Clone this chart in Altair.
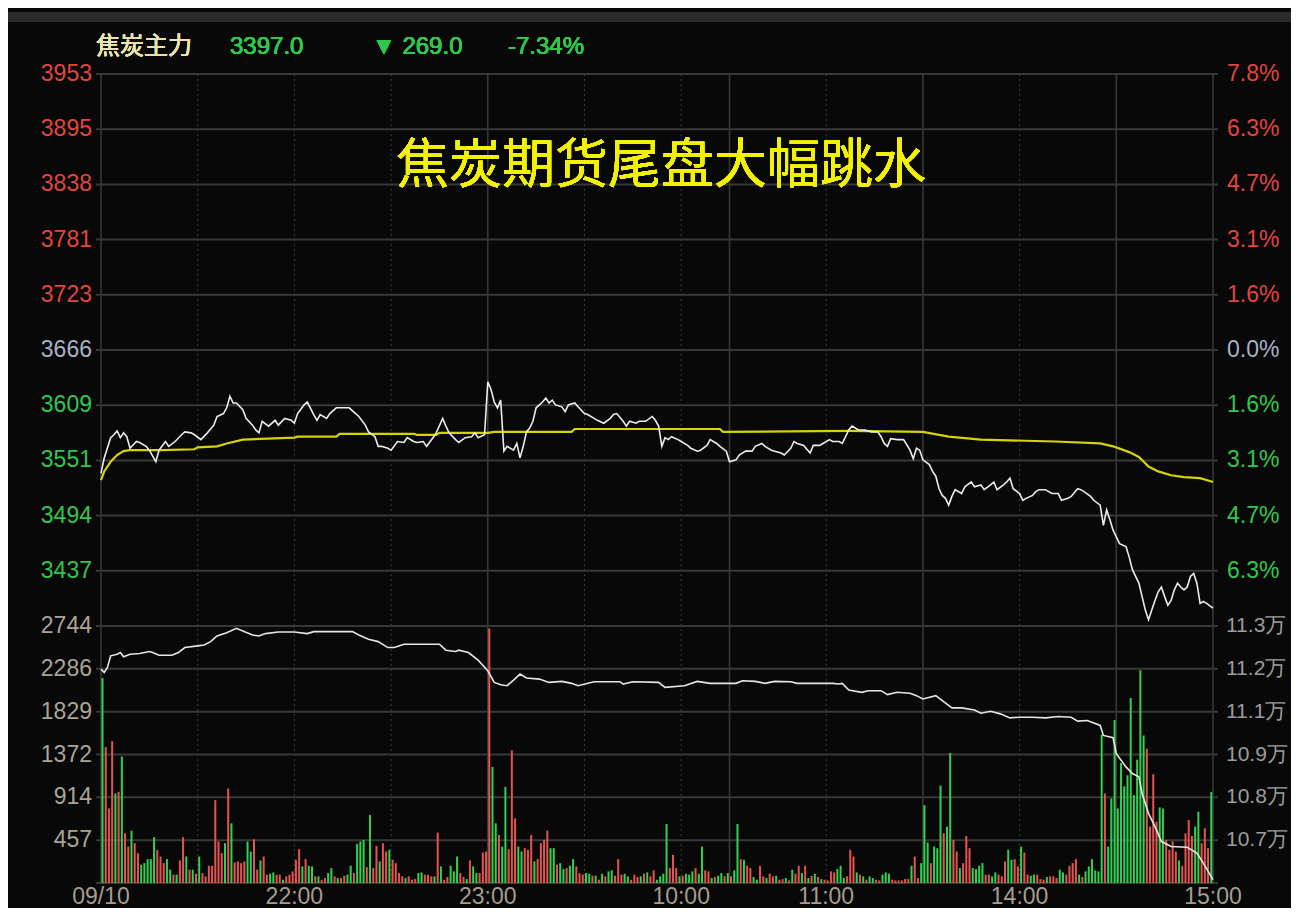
import altair as alt
import pandas as pd

# ---------------- data ----------------
PREV_SETTLE = 3666
PRICE_STEP = 57.3          # one grid step of the price panel
VOL_MAX = 2744
OI_TOP, OI_STEP = 113000, 1200

X_TICK_POS = [0, 60, 120, 180, 225, 285, 345]
X_TICK_LABELS = ["09/10", "22:00", "23:00", "10:00", "11:00", "14:00", "15:00"]
X_SOLID = [0, 120, 195, 255, 315, 345]
X_DOTTED = [30, 60, 90, 150, 180, 225, 285]

PRICE_TICK_K = [5, 4, 3, 2, 1, 0, -1, -2, -3, -4]
PRICE_TICK_LABELS = ["3953", "3895", "3838", "3781", "3723", "3666", "3609", "3551", "3494", "3437"]
PCT_TICK_LABELS = ["7.8%", "6.3%", "4.7%", "3.1%", "1.6%", "0.0%", "1.6%", "3.1%", "4.7%", "6.3%"]
VOL_TICK_LABELS = ["2744", "2286", "1829", "1372", "914", "457"]
OI_TICK_LABELS = ["11.3万", "11.2万", "11.1万", "10.9万", "10.8万", "10.7万"]

PRICE_NIGHT = [(0, 3538), (1, 3554), (3, 3575), (4, 3578), (5, 3582), (6, 3575), (7, 3580), (8, 3576),
               (9, 3564), (11, 3571), (12, 3570), (14, 3566), (15, 3562), (17, 3550), (18, 3562),
               (20, 3571), (21, 3566), (23, 3571), (25, 3578), (26, 3581), (28, 3580), (29, 3578),
               (31, 3573), (33, 3580), (35, 3588), (36, 3597), (38, 3600), (39, 3606), (40, 3618),
               (41, 3611), (42, 3611), (44, 3604), (45, 3595), (47, 3588), (48, 3583), (49, 3580),
               (50, 3592), (52, 3587), (54, 3593), (55, 3588), (57, 3595), (59, 3593), (60, 3590),
               (61, 3600), (63, 3609), (64, 3612), (66, 3599), (67, 3593), (68, 3599), (70, 3595),
               (71, 3600), (73, 3606), (75, 3606), (77, 3606), (79, 3600), (80, 3597), (82, 3588),
               (83, 3581), (85, 3576), (86, 3566), (87, 3566), (89, 3564), (90, 3562), (92, 3571),
               (94, 3570), (95, 3575), (97, 3571), (98, 3570), (100, 3571), (101, 3566), (103, 3575),
               (104, 3580), (106, 3595), (107, 3587), (108, 3580), (110, 3573), (111, 3570),
               (113, 3575), (115, 3576), (116, 3580), (117, 3575), (119, 3578)]
PRICE_MORNING = [(120, 3633), (121, 3625), (122, 3612), (123, 3606), (124, 3614), (125, 3561),
                 (126, 3566), (128, 3562), (129, 3569), (130, 3554), (131, 3566), (132, 3581),
                 (133, 3585), (134, 3592), (135, 3606), (137, 3612), (138, 3616), (139, 3611),
                 (140, 3614), (141, 3609), (143, 3607), (144, 3602), (145, 3609), (147, 3611),
                 (148, 3607), (150, 3600), (151, 3599), (153, 3595), (154, 3593), (156, 3590),
                 (158, 3595), (159, 3599), (160, 3600), (162, 3592), (163, 3587), (164, 3592),
                 (166, 3590), (167, 3592), (169, 3592), (171, 3597), (172, 3593), (173, 3587),
                 (174, 3566), (175, 3575), (176, 3573), (177, 3576), (179, 3573), (180, 3571),
                 (182, 3567), (183, 3564), (185, 3561), (186, 3562), (188, 3567), (189, 3573),
                 (191, 3569), (192, 3566), (194, 3561), (195, 3550), (197, 3552), (198, 3557),
                 (200, 3561), (202, 3561), (203, 3566), (205, 3569), (206, 3566), (208, 3562),
                 (209, 3561), (211, 3559), (212, 3557), (214, 3564), (215, 3571), (216, 3569),
                 (218, 3567), (220, 3559), (221, 3567), (223, 3567), (224, 3569), (226, 3573),
                 (227, 3571), (229, 3571), (230, 3569), (232, 3583), (233, 3587), (235, 3583)]
PRICE_AFTERNOON = [(237, 3583), (239, 3581), (241, 3581), (242, 3576), (243, 3569), (244, 3566),
                   (245, 3574), (247, 3573), (249, 3573), (251, 3562), (252, 3553), (253, 3564),
                   (254, 3562), (255, 3552), (257, 3547), (258, 3540), (259, 3535), (260, 3522),
                   (261, 3515), (262, 3512), (263, 3505), (264, 3514), (265, 3521), (267, 3517),
                   (268, 3524), (270, 3529), (271, 3524), (273, 3526), (274, 3521), (276, 3526),
                   (277, 3529), (278, 3521), (280, 3526), (281, 3529), (282, 3533), (283, 3522),
                   (285, 3517), (286, 3510), (287, 3512), (289, 3515), (290, 3519), (291, 3521),
                   (293, 3521), (295, 3517), (297, 3517), (298, 3510), (300, 3512), (301, 3514),
                   (303, 3522), (304, 3521), (305, 3519), (307, 3514), (308, 3510), (310, 3505),
                   (311, 3484), (312, 3500), (313, 3490), (314, 3479), (315, 3472), (316, 3465),
                   (318, 3462), (319, 3451), (320, 3438), (322, 3424), (323, 3410), (324, 3396),
                   (325, 3386), (326, 3396), (327, 3406), (328, 3415), (329, 3420), (330, 3410),
                   (331, 3401), (332, 3406), (333, 3417), (334, 3424), (335, 3420), (336, 3417),
                   (337, 3420), (338, 3431), (339, 3434), (340, 3424), (341, 3403), (342, 3405),
                   (343, 3403), (345, 3398)]

AVG_PRICE = [(0, 3531), (1, 3540), (3, 3550), (5, 3557), (7, 3561), (9, 3562), (19, 3562), (29, 3563),
             (30, 3565), (36, 3566), (39, 3569), (44, 3573), (60, 3575), (61, 3576), (73, 3576),
             (74, 3579), (97, 3579), (98, 3578), (104, 3578), (105, 3580), (120, 3580), (122, 3581),
             (146, 3581), (147, 3584), (192, 3584), (193, 3581), (232, 3582), (255, 3581), (263, 3576),
             (273, 3573), (296, 3571), (310, 3569), (314, 3566), (319, 3560), (322, 3555), (325, 3545),
             (328, 3540), (332, 3536), (336, 3534), (341, 3533), (345, 3529)]

OPEN_INTEREST = [(0, 111792), (1, 111699), (2, 111839), (3, 112164), (5, 112210), (6, 112257),
                 (7, 112136), (9, 112210), (12, 112229), (15, 112285), (16, 112257), (18, 112182),
                 (22, 112182), (24, 112257), (26, 112396), (30, 112443), (32, 112470), (34, 112563),
                 (36, 112721), (39, 112814), (42, 112935), (44, 112861), (47, 112749), (49, 112721),
                 (51, 112787), (55, 112833), (60, 112833), (64, 112787), (66, 112842), (78, 112842),
                 (80, 112749), (83, 112628), (86, 112563), (89, 112396), (91, 112396), (94, 112489),
                 (105, 112489), (107, 112322), (110, 112285), (111, 112322), (114, 112257),
                 (117, 112043), (120, 111746), (122, 111420), (124, 111355), (126, 111328),
                 (128, 111486), (130, 111653), (132, 111542), (136, 111513), (139, 111420),
                 (143, 111448), (146, 111393), (148, 111328), (153, 111439), (161, 111439),
                 (162, 111374), (165, 111439), (173, 111420), (175, 111281), (181, 111328),
                 (185, 111448), (189, 111393), (197, 111393), (199, 111467), (203, 111448),
                 (206, 111393), (209, 111448), (214, 111439), (216, 111393), (227, 111393),
                 (229, 111374), (230, 111393), (232, 111207), (236, 111142), (238, 111188),
                 (242, 111188), (244, 111077), (247, 111142), (251, 111114), (253, 111049),
                 (255, 110956), (259, 111049), (261, 110910), (264, 110705), (267, 110705),
                 (271, 110649), (273, 110556), (276, 110612), (279, 110538), (282, 110426),
                 (285, 110445), (289, 110445), (293, 110426), (297, 110463), (301, 110445),
                 (303, 110334), (306, 110352), (310, 110213), (311, 109934), (314, 109869),
                 (315, 109423), (318, 109052), (320, 108866), (322, 108773), (323, 108308),
                 (325, 107751), (327, 107379), (329, 106961), (332, 106822), (337, 106803),
                 (340, 106636), (342, 106357), (345, 105893)]

VOL_NIGHT = [2188, 1451, 797, 1515, 956, 974, 1352, 531, 389, 559,
             425, 319, 195, 212, 255, 255, 489, 354, 283, 212,
             255, 142, 89, 89, 241, 489, 283, 142, 142, 99,
             283, 106, 71, 184, 184, 885, 443, 319, 425, 1009,
             637, 219, 230, 212, 230, 443, 336, 467, 142, 241,
             283, 89, 99, 113, 89, 89, 35, 71, 89, 124,
             248, 361, 177, 255, 184, 177, 71, 71, 35, 53,
             106, 159, 71, 53, 53, 78, 89, 184, 106, 418,
             443, 460, 170, 726, 159, 396, 230, 425, 336, 354,
             248, 212, 106, 71, 53, 71, 35, 42, 106, 113,
             89, 89, 71, 71, 538, 177, 35, 64, 184, 124,
             283, 106, 64, 42, 241, 177, 106, 106, 326,
             336, 2717]
DIR_NIGHT = ("GRRRGRGRRG" "RRGGGGGRRR" "GGRGRRGRGR" "GRRRRRRRGR" "GRRRRGGRRG" "RRGGRRGRRR"
             "RRGRGGRGRR" "GGRGRRGGRG" "GGRGRRGRRG" "RRRRGRRRGG" "RRRGRGRRGG" "GRRGRGGRR" "RR")

VOL_MORNING = [1239, 637, 513, 389, 1026, 361, 1416, 690, 389, 336,
               372, 354, 513, 230, 255, 425, 460, 559, 372, 372,
               195, 212, 149, 159, 184, 255, 177, 106, 89, 106,
               99, 78, 78, 35, 99, 71, 124, 135, 78, 255,
               89, 99, 71, 35, 89, 64, 71, 99, 113, 71,
               135, 35, 71, 99, 630, 159, 301, 159, 71, 78,
               99, 89, 124, 159, 99, 389, 135, 124, 53, 64,
               78, 106, 71, 106, 71, 135, 630, 255, 248, 184,
               159, 64, 35, 184, 71, 53, 99, 71, 78, 35,
               42, 53, 28, 142, 99, 184, 106, 184, 53, 78,
               99, 64, 42, 35, 28, 124, 113, 149, 184, 53,
               71, 354, 283]
DIR_MORNING = ("GGRGGRRRGG" "RRRGRRRRGG" "RGGRGGRRRG" "GRGRGRGGRR" "RGGRRRGRGR" "RGGGGRRRGR"
               "GGGRGGRRGR" "GGRGRGGRGR" "RGGRRGRRGR" "RGRGRRGRGR" "GRGRRRRGGG" "RRR")

VOL_AFTERNOON = [113, 89, 71, 35, 71, 53, 35, 28, 89, 113,
                 99, 35, 28, 28, 28, 42, 42, 184, 283, 53,
                 212, 832, 432, 212, 389, 372, 1040, 531, 602, 1388,
                 460, 336, 159, 212, 502, 372, 159, 149, 184, 212,
                 89, 89, 71, 113, 89, 71, 230, 354, 248, 255,
                 177, 389, 326, 89, 78, 89, 89, 42, 35, 64,
                 71, 71, 53, 142, 113, 89, 184, 212, 255, 89,
                 64, 124, 177, 255, 135, 124, 1586, 956, 389, 903,
                 1741, 796, 1281, 1033, 1150, 1975, 938, 1317, 2272, 1575,
                 1434, 602, 1161, 655, 807, 796, 460, 354, 443, 336,
                 241, 184, 531, 673, 502, 602, 761, 425, 584, 372,
                 973]
DIR_AFTERNOON = ("GRGRGGRRGG" "GRRRRRRGRR" "GGGRGGGRGG" "RRGRRRGGGG" "RRGGRRRGGR" "RGRRGGRRRG"
                 "RRRGGRRRRG" "RGGGGGGRGG" "GGGGGGGGGG" "RRRRGGRRRR" "GRRRRGGRRR" "G")

HEADER_NAME = "焦炭主力"
HEADER_LAST = "3397.0"
HEADER_CHG = "▼ 269.0"
HEADER_PCT = "-7.34%"
TITLE = "焦炭期货尾盘大幅跳水"

# ---------------- styling ----------------
W, H = 1122, 809
PRICE_H = 552
BG = "#080808"
GRID = "#383838"
RED = "#e2453f"
GREEN = "#2fc84c"
NEUTRAL = "#a7b2c6"
BAR_RED = "#e65450"
BAR_GREEN = "#2fd24f"
LAB_FONT = "Liberation Sans"
CJK_FONT = "Noto Sans CJK SC"

# ---------------- tables ----------------
price_df = pd.DataFrame(PRICE_NIGHT + PRICE_MORNING + PRICE_AFTERNOON, columns=["t", "p"])
avg_df = pd.DataFrame(AVG_PRICE, columns=["t", "p"])
oi_df = pd.DataFrame(OPEN_INTEREST, columns=["t", "oi"])
vols = VOL_NIGHT + VOL_MORNING + VOL_AFTERNOON
dirs = list(DIR_NIGHT + DIR_MORNING + DIR_AFTERNOON)
vol_df = pd.DataFrame({"t": list(range(len(vols))), "v": vols, "d": dirs})

p_ticks = [PREV_SETTLE + k * PRICE_STEP for k in PRICE_TICK_K]
p_colors = [RED if k > 0 else (NEUTRAL if k == 0 else GREEN) for k in PRICE_TICK_K]
ptick_df = pd.DataFrame({"val": p_ticks, "lab": PRICE_TICK_LABELS, "pct": PCT_TICK_LABELS, "c": p_colors})
pgrid_df = pd.DataFrame({"val": p_ticks + [PREV_SETTLE - 5 * PRICE_STEP]})

v_ticks = [VOL_MAX - i * VOL_MAX / 6 for i in range(6)]
vtick_df = pd.DataFrame({"val": v_ticks, "lab": VOL_TICK_LABELS,
                         "oi": [OI_TOP - i * OI_STEP for i in range(6)], "oilab": OI_TICK_LABELS})
vgrid_df = pd.DataFrame({"val": v_ticks + [0]})

xtick_df = pd.DataFrame({"t": X_TICK_POS, "lab": X_TICK_LABELS})
solid_df = pd.DataFrame({"t": X_SOLID})
dotted_df = pd.DataFrame({"t": X_DOTTED})

# ---------------- scales ----------------
XS = alt.Scale(domain=[0, 345], nice=False, zero=False)
PS = alt.Scale(domain=[PREV_SETTLE - 5 * PRICE_STEP, PREV_SETTLE + 5 * PRICE_STEP], range=[PRICE_H, 0], nice=False, zero=False)
VS = alt.Scale(domain=[0, VOL_MAX], range=[H, PRICE_H], nice=False, zero=False)
OS = alt.Scale(domain=[OI_TOP - 6 * OI_STEP, OI_TOP], range=[H, PRICE_H], nice=False, zero=False)


def X(field="t"):
    return alt.X(f"{field}:Q", scale=XS, axis=None)


vsolid = alt.Chart(solid_df).mark_rule(color=GRID, strokeWidth=1.6).encode(x=X())
vdot = alt.Chart(dotted_df).mark_rule(color="#3c3c3c", strokeWidth=1, strokeDash=[2, 3]).encode(x=X())
pgrid = alt.Chart(pgrid_df).mark_rule(color=GRID, strokeWidth=2).encode(y=alt.Y("val:Q", scale=PS, axis=None))
vgrid = alt.Chart(vgrid_df).mark_rule(color=GRID, strokeWidth=2).encode(y=alt.Y("val:Q", scale=VS, axis=None))

bars = alt.Chart(vol_df).mark_bar(size=2, xOffset=1.5).encode(
    x=X(),
    y=alt.Y("v:Q", scale=VS, axis=None),
    y2=alt.datum(0),
    color=alt.Color("d:N", scale=alt.Scale(domain=["R", "G"], range=[BAR_RED, BAR_GREEN]), legend=None),
)

oi_line = alt.Chart(oi_df).mark_line(color="#e6e6e6", strokeWidth=1.6).encode(
    x=X(), y=alt.Y("oi:Q", scale=OS, axis=None))
avg_line = alt.Chart(avg_df).mark_line(color="#d6d400", strokeWidth=2.2).encode(
    x=X(), y=alt.Y("p:Q", scale=PS, axis=None))
price_line = alt.Chart(price_df).mark_line(color="#ececec", strokeWidth=1.6).encode(
    x=X(), y=alt.Y("p:Q", scale=PS, axis=None))

lab_left_p = alt.Chart(ptick_df).mark_text(align="right", baseline="middle", font=LAB_FONT, fontSize=23, dx=-4).encode(
    x=alt.value(0), y=alt.Y("val:Q", scale=PS, axis=None), text="lab:N", color=alt.Color("c:N", scale=None))
lab_right_p = alt.Chart(ptick_df).mark_text(align="left", baseline="middle", font=LAB_FONT, fontSize=23).encode(
    x=alt.value(W + 9), y=alt.Y("val:Q", scale=PS, axis=None), text="pct:N", color=alt.Color("c:N", scale=None))
lab_left_v = alt.Chart(vtick_df).mark_text(align="right", baseline="middle", font=LAB_FONT, fontSize=23, color="#aaa397", dx=-4).encode(
    x=alt.value(0), y=alt.Y("val:Q", scale=VS, axis=None), text="lab:N")
lab_right_v = alt.Chart(vtick_df).mark_text(align="left", baseline="middle", font=LAB_FONT, fontSize=21, color="#9c9c9c").encode(
    x=alt.value(W + 8), y=alt.Y("oi:Q", scale=OS, axis=None), text="oilab:N")
lab_x = alt.Chart(xtick_df).mark_text(align="center", baseline="middle", font=LAB_FONT, fontSize=23, color="#a49d8f").encode(
    x=X(), y=alt.value(H + 14), text="lab:N")

topband = alt.Chart(xtick_df).mark_rect(color="#2b2b2b").encode(
    x=alt.value(-88), x2=alt.value(W + 73), y=alt.value(-62), y2=alt.value(-52))

hdr_name = alt.Chart(xtick_df).mark_text(text=HEADER_NAME, font=CJK_FONT, fontSize=24, color="#e9e3b0",
                                         align="left", baseline="middle").encode(x=alt.value(0), y=alt.value(-27))
hdr_last = alt.Chart(xtick_df).mark_text(text=HEADER_LAST, font=LAB_FONT, fontSize=24, color=GREEN,
                                         align="left", baseline="middle").encode(x=alt.value(134), y=alt.value(-27))
hdr_chg = alt.Chart(xtick_df).mark_text(text=HEADER_CHG, font=LAB_FONT, fontSize=24, color=GREEN,
                                        align="left", baseline="middle").encode(x=alt.value(276), y=alt.value(-27))
hdr_pct = alt.Chart(xtick_df).mark_text(text=HEADER_PCT, font=LAB_FONT, fontSize=24, color=GREEN,
                                        align="left", baseline="middle").encode(x=alt.value(412), y=alt.value(-27))
title = alt.Chart(xtick_df).mark_text(text=TITLE, font=CJK_FONT, fontSize=53, fontWeight="normal", color="#f2f200",
                                      align="center", baseline="middle").encode(x=alt.value(565), y=alt.value(93))

chart = alt.layer(
    topband, vdot, vsolid, pgrid, vgrid, bars, oi_line, avg_line, price_line,
    lab_left_p, lab_right_p, lab_left_v, lab_right_v, lab_x,
    hdr_name, hdr_last, hdr_chg, hdr_pct, title,
).resolve_scale(y="independent").properties(
    width=W, height=H,
    padding={"left": 88, "top": 66, "right": 73, "bottom": 25},
    autosize=alt.AutoSizeParams(type="none"),
    background=BG,
).configure_view(strokeWidth=0)

chart.save("out.html", embed_options={"renderer": "svg", "actions": False})
